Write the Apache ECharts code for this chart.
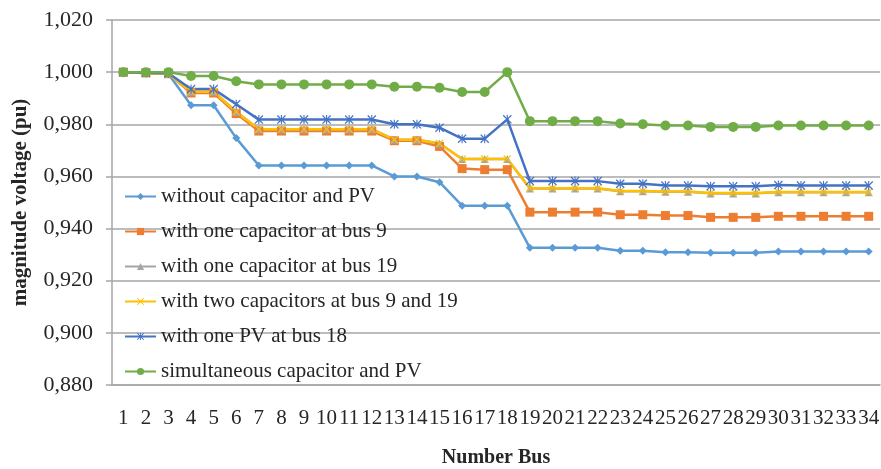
<!DOCTYPE html>
<html>
<head>
<meta charset="utf-8">
<script src="https://cdn.jsdelivr.net/npm/echarts@6/dist/echarts.min.js"></script>
<style>
html,body{margin:0;padding:0;background:#fff;}
#chart{width:881px;height:469px;}
</style>
</head>
<body>
<div id="chart"></div>
<script>
const buses = ['1','2','3','4','5','6','7','8','9','10','11','12','13','14','15','16','17','18','19','20','21','22','23','24','25','26','27','28','29','30','31','32','33','34'];

const withoutCapPV = [1.000,0.9997,0.9993,0.9873,0.9873,0.9747,0.9642,0.9642,0.9642,0.9642,0.9642,0.9642,0.9600,0.9600,0.9578,0.9488,0.9488,0.9488,0.9326,0.9326,0.9326,0.9326,0.9315,0.9315,0.9309,0.9309,0.9307,0.9307,0.9307,0.9312,0.9312,0.9312,0.9312,0.9312];
const oneCapBus9 = [1.000,0.9997,0.9994,0.9920,0.9920,0.9841,0.9774,0.9774,0.9774,0.9774,0.9774,0.9774,0.9737,0.9737,0.9715,0.9630,0.9626,0.9626,0.9463,0.9463,0.9463,0.9463,0.9453,0.9453,0.9450,0.9450,0.9443,0.9443,0.9443,0.9447,0.9447,0.9447,0.9447,0.9447];
const oneCapBus19 = [1.000,0.9997,0.9994,0.9925,0.9925,0.9848,0.9781,0.9781,0.9781,0.9781,0.9781,0.9781,0.9741,0.9741,0.9726,0.9667,0.9667,0.9667,0.9554,0.9554,0.9554,0.9554,0.9543,0.9543,0.9541,0.9541,0.9535,0.9535,0.9535,0.9539,0.9539,0.9539,0.9539,0.9539];
const twoCaps = [1.000,0.9997,0.9994,0.9925,0.9925,0.9848,0.9781,0.9781,0.9781,0.9781,0.9781,0.9781,0.9741,0.9741,0.9726,0.9667,0.9667,0.9667,0.9555,0.9555,0.9555,0.9555,0.9544,0.9544,0.9542,0.9542,0.9536,0.9536,0.9536,0.9540,0.9540,0.9540,0.9540,0.9540];
const onePVBus18 = [1.000,0.9998,0.9996,0.9935,0.9935,0.9877,0.9818,0.9818,0.9818,0.9818,0.9818,0.9818,0.9800,0.9800,0.9787,0.9745,0.9745,0.9819,0.9582,0.9582,0.9582,0.9582,0.9572,0.9572,0.9565,0.9565,0.9562,0.9562,0.9562,0.9567,0.9565,0.9565,0.9565,0.9565];
const simultaneous = [1.000,1.000,1.000,0.9985,0.9985,0.9965,0.9953,0.9953,0.9953,0.9953,0.9953,0.9953,0.9944,0.9944,0.9940,0.9924,0.9924,1.000,0.9812,0.9812,0.9812,0.9812,0.9803,0.9800,0.9795,0.9795,0.9790,0.9790,0.9790,0.9795,0.9795,0.9795,0.9795,0.9795];

const seriesNames = ['without capacitor and PV','with one capacitor at bus 9','with one capacitor at bus 19','with two capacitors at bus 9 and 19','with one PV at bus 18','simultaneous capacitor and PV'];

const X_PATH = 'path://M1,0 L5,4 L9,0 L10,1 L6,5 L10,9 L9,10 L5,6 L1,10 L0,9 L4,5 L0,1 Z';
const STAR_PATH = 'path://M1,0 L5,4 L9,0 L10,1 L6,5 L10,9 L9,10 L5,6 L1,10 L0,9 L4,5 L0,1 Z M4.4,0 L5.6,0 L5.6,10 L4.4,10 Z';

const serif = '"Liberation Serif", "DejaVu Serif", serif';

function mk(name, data, color, symbol, size) {
  return {
    name: name, type: 'line', data: data,
    symbol: symbol, symbolSize: size, showSymbol: true,
    lineStyle: { color: color, width: 2.5 },
    itemStyle: { color: color, borderWidth: 0 },
    animation: false
  };
}

const chart = echarts.init(document.getElementById('chart'));
chart.setOption({
  backgroundColor: '#ffffff',
  animation: false,
  grid: { left: 112, right: 1, top: 20, bottom: 84, containLabel: false, outerBoundsMode: 'none' },
  legend: {
    orient: 'vertical', left: 124, top: 186, padding: 0,
    itemWidth: 31, itemHeight: 9, itemGap: 14,
    textStyle: { fontFamily: serif, fontSize: 21, color: '#262626' },
    data: seriesNames
  },
  xAxis: {
    type: 'category', data: buses, boundaryGap: true,
    axisLine: { lineStyle: { color: '#a6a6a6', width: 1.5 } },
    axisTick: { show: false },
    axisLabel: { fontFamily: serif, fontSize: 21, color: '#262626', margin: 23, interval: 0 },
    name: 'Number Bus', nameLocation: 'middle', nameGap: 63,
    nameTextStyle: { fontFamily: serif, fontSize: 20, fontWeight: 'bold', color: '#262626' }
  },
  yAxis: {
    type: 'value', min: 0.88, max: 1.02, interval: 0.02,
    axisLine: { show: true, lineStyle: { color: '#a6a6a6', width: 1.5 } },
    axisTick: { show: true, length: 6, lineStyle: { color: '#a6a6a6', width: 1.5 } },
    splitLine: { lineStyle: { color: '#a6a6a6', width: 1.5 } },
    axisLabel: { fontFamily: serif, fontSize: 22, color: '#262626', margin: 19,
      formatter: function (v) { return v.toFixed(3).replace('.', ','); } },
    name: 'magnitude voltage (pu)', nameLocation: 'middle', nameGap: 81,
    nameTextStyle: { fontFamily: serif, fontSize: 21, fontWeight: 'bold', color: '#262626' }
  },
  series: [
    mk(seriesNames[0], withoutCapPV, '#5b9bd5', 'diamond', 8),
    mk(seriesNames[1], oneCapBus9, '#ed7d31', 'rect', 9),
    mk(seriesNames[2], oneCapBus19, '#a5a5a5', 'triangle', 8),
    mk(seriesNames[3], twoCaps, '#ffc000', X_PATH, 8),
    mk(seriesNames[4], onePVBus18, '#4472c4', STAR_PATH, 9),
    mk(seriesNames[5], simultaneous, '#70ad47', 'circle', 10)
  ]
});
</script>
</body>
</html>
